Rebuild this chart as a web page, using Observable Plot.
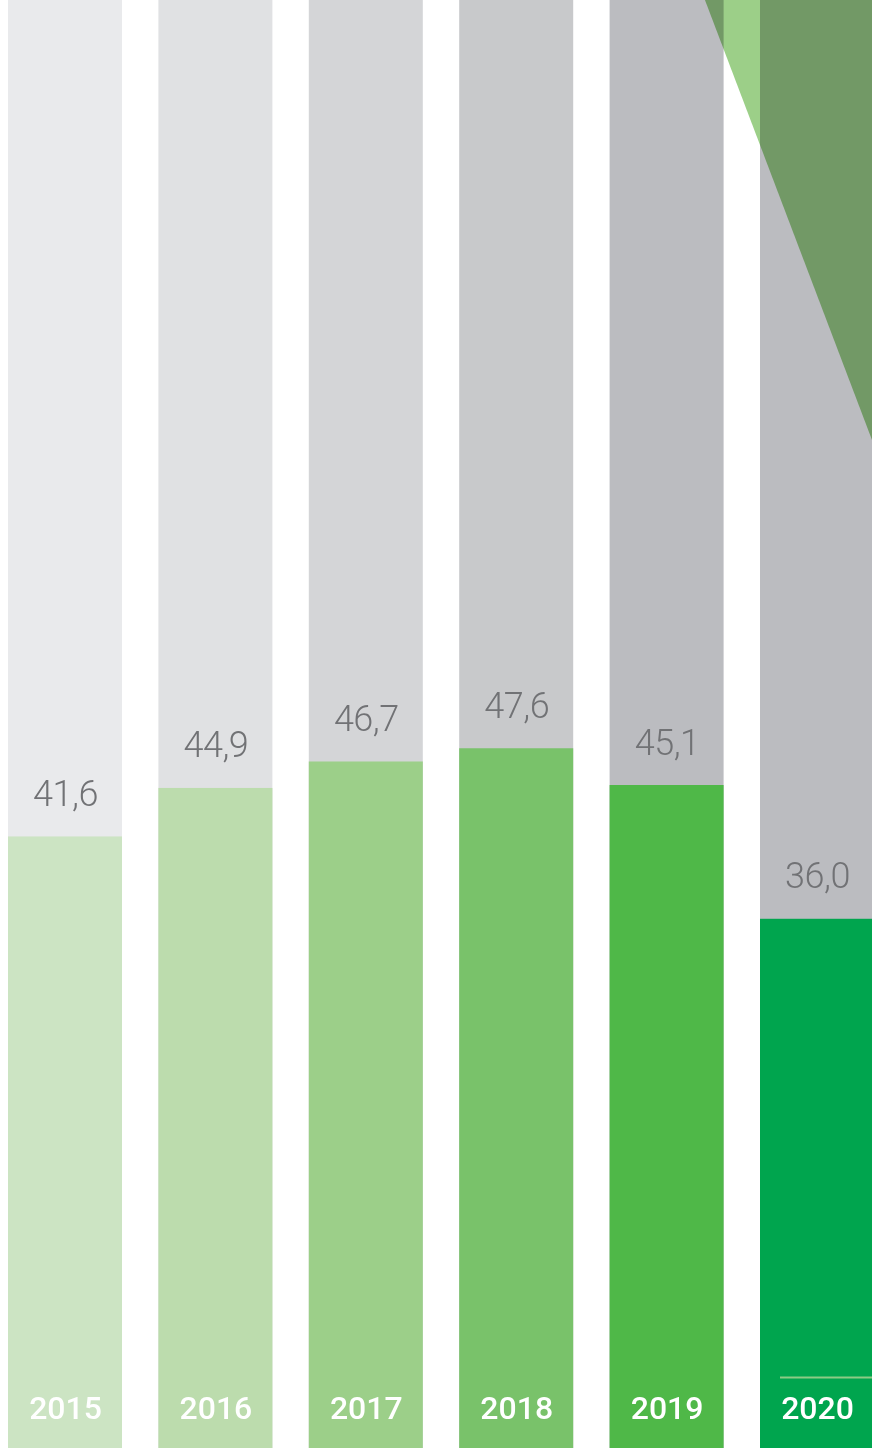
<!DOCTYPE html>
<html>
<head>
<meta charset="utf-8">
<script src="https://cdn.jsdelivr.net/npm/d3@7"></script>
<script src="https://cdn.jsdelivr.net/npm/@observablehq/plot@0.6"></script>
<style>
  html, body { margin: 0; padding: 0; background: #fff; overflow: hidden; }
  #chart svg { display: block; }
</style>
</head>
<body>
<div id="chart"></div>
<script>
// ---- data ----
const years = ["2015", "2016", "2017", "2018", "2019", "2020"];
const values = [41.6, 44.9, 46.7, 47.6, 45.1, 36.0];
const greens = ["#cce4c3", "#bcdcad", "#9ccf89", "#79c26a", "#4fb848", "#00a54e"];
const greys = ["#e9eaec", "#e0e1e3", "#d4d5d7", "#c8c9cb", "#bbbcc0", "#bbbcc0"];
// decorative ribbon (data units: x = bar index, y = value scale)
const ribbonX = [4.255, 5.77];
const ribbonY1 = [98.5, 57.67];
const ribbonY2 = [98.5, 98.5];
// decorative thin rule in the last bar
const accentX = [4.754, 5.6];
const accentY = [4.83];

const yMax = 98.5;
const half = 0.379;

const rows = years.map((year, i) => ({
  i, year, value: values[i], green: greens[i], grey: greys[i],
  label: values[i].toFixed(1).replace(".", ",")
}));
const ribbon = ribbonX.map((x, k) => ({x, y1: ribbonY1[k], y2: ribbonY2[k]}));

const chart = Plot.plot({
  width: 872,
  height: 1448,
  marginTop: 0, marginBottom: 0, marginLeft: 0, marginRight: 0,
  x: {domain: [0, 5], range: [65, 817], axis: null},
  y: {domain: [0, yMax], range: [1448, 0], axis: null},
  marks: [
    Plot.rect(rows, {x1: d => d.i - half, x2: d => d.i + half, y1: 0, y2: yMax, fill: d => d.grey}),
    Plot.rect(rows, {x1: d => d.i - half, x2: d => d.i + half, y1: 0, y2: "value", fill: d => d.green}),
    Plot.areaY(ribbon, {x: "x", y1: "y1", y2: "y2", fill: "#9ccf88", curve: "linear", className: "ribbon"}),
    Plot.ruleY(accentY, {x1: accentX[0], x2: accentX[1], stroke: "#8ccb85", strokeWidth: 2}),
    Plot.text(rows, {x: "i", y: "value", text: "label", lineAnchor: "bottom", dy: -31,
      fill: "#717275", fontSize: 36, fontWeight: 300, fontFamily: "Roboto", className: "vlabel"}),
    Plot.text(rows, {x: "i", y: 0, text: "year", lineAnchor: "bottom", dy: -30,
      fill: "#ffffff", fontSize: 32, fontWeight: 500, fontFamily: "Roboto", className: "ylabel"})
  ]
});
d3.select(chart).selectAll(".ribbon, .ribbon path").style("mix-blend-mode", "multiply");
d3.select(chart).selectAll(".vlabel text, text.vlabel").style("letter-spacing", "-0.5px");
document.getElementById("chart").appendChild(chart);
</script>
</body>
</html>
